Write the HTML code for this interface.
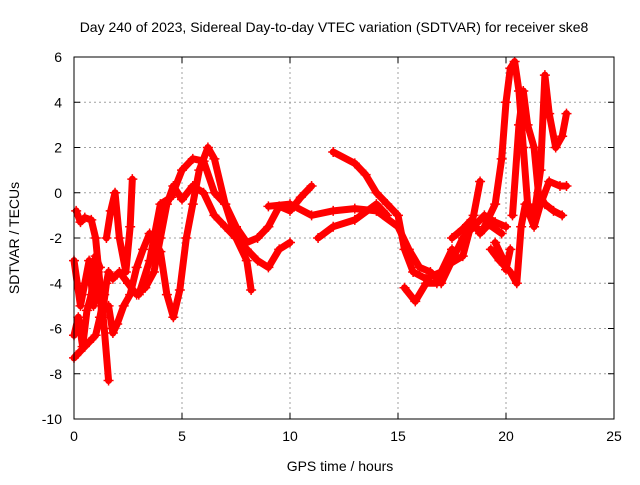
<!DOCTYPE html>
<html><head><meta charset="utf-8"><style>
body{margin:0;background:#fff;}
svg text{font-family:"Liberation Sans",sans-serif;font-size:14px;fill:#000;}
</style></head><body>
<svg id="chart" width="640" height="480">
<text x="334" y="32" text-anchor="middle">Day 240 of 2023, Sidereal Day-to-day VTEC variation (SDTVAR) for receiver ske8</text>
<text x="340" y="471" text-anchor="middle">GPS time / hours</text>
<text transform="translate(19,238) rotate(-90)" text-anchor="middle">SDTVAR / TECUs</text>
<g id="grid"></g><g id="ticks"></g><g id="marks"></g>
<rect x="74" y="57" width="540" height="362" fill="none" stroke="#000"/>
</svg>
<script>
const xTicks=[0,5,10,15,20,25];
const yTicks=[-10,-8,-6,-4,-2,0,2,4,6];
const series1=[[0,-7.3],[0.3,-7],[0.7,-6.6],[1.0,-6.3],[1.2,-5.5],[1.4,-4.5],[1.6,-3.5],[1.8,-3.8],[2.1,-3.5],[2.5,-4],[2.9,-4.5],[3.3,-4.2],[3.7,-3.5],[4,-2],[4.3,-0.5],[4.6,0.3],[5,-0.3],[5.5,0.3],[6,0],[6.5,-1],[7,-1.5],[7.5,-2],[8,-2.5],[8.5,-3],[9,-3.3],[9.5,-2.5],[10,-2.2]];
const series2=[[0.1,-0.8],[0.3,-1.3],[0.5,-1.1],[0.8,-1.2],[1.0,-2],[1.2,-4],[1.4,-6],[1.6,-8.3]];
const series3=[[1.6,-5],[1.8,-6.2],[2.0,-5.8],[2.3,-5],[2.6,-4.5],[2.9,-3.3],[3.2,-2.5],[3.5,-1.8],[4.0,-2.6],[4.3,-4.5],[4.6,-5.5],[4.9,-4.3],[5.2,-2],[5.5,-0.5],[5.8,1],[6.2,2],[6.5,1.5],[7,-0.5],[7.5,-2],[8,-3],[8.2,-4.3]];
const series4=[[1.5,-2],[1.7,-0.8],[1.9,0],[2.1,-2],[2.4,-3.5],[2.6,-1.5],[2.7,0.6]];
const series5=[[3,-4.5],[3.5,-3],[4,-0.5],[4.5,-0.2],[5,1],[5.5,1.5],[6,1.4],[6.5,0],[7,-0.5],[7.5,-1.5],[8,-2.2],[8.5,-2],[9,-1.5],[9.5,-0.6],[10,-0.8],[10.5,-0.2],[11,0.3]];
const series6=[[9,-0.6],[10,-0.5],[11,-1],[12,-0.8],[13,-0.7],[14,-0.8],[15,-1.5],[15.5,-2.5],[16,-3.3],[16.5,-3.5],[17,-4],[17.5,-3],[18,-2],[18.5,-1.5],[19,-1],[19.5,-1.3],[20,-1.5]];
const series7=[[11.3,-2],[12,-1.5],[13,-1.2],[14,-0.5],[14.5,-1]];
const series8=[[12,1.8],[13,1.3],[13.5,0.8],[14,0],[14.5,-0.5],[15,-1],[15.3,-2.5],[15.7,-3.5],[16.3,-3.8],[17,-3.5],[17.5,-2.5]];
const series9=[[15.3,-4.2],[15.8,-4.8],[16.3,-4],[16.8,-4],[17.3,-3.2],[18,-2.8],[18.5,-1],[18.8,0.5]];
const series10=[[19,-1.5],[19.5,-0.5],[19.8,1.5],[20,4],[20.2,5.5],[20.4,5.8],[20.6,4.5],[20.8,2],[21,-0.5],[21.3,-1],[21.6,1],[21.8,5.2],[22,3.5],[22.3,2],[22.6,2.5],[22.8,3.5]];
const series11=[[19.3,-2.5],[19.7,-3],[20.2,-3.5],[20.5,-4],[20.7,-1.5],[20.9,-0.5],[21.3,-1.5],[21.6,-0.5],[22,0.5],[22.5,0.3],[22.8,0.3]];
const series12=[[20.3,-1],[20.6,3],[20.8,4.5],[21,3],[21.3,2],[21.5,0],[21.8,-0.5],[22.2,-0.8],[22.6,-1]];
const series13=[[0,-3],[0.3,-5],[0.5,-4],[0.7,-3],[0.9,-5],[1.1,-3.5],[1.3,-5.5],[1.5,-4]];
const series14=[[0,-6.3],[0.2,-5.5],[0.4,-6.8],[0.6,-5.2],[0.8,-4.5],[1.0,-2.8],[1.2,-3.3]];
const series15=[[17.5,-2],[18,-1.6],[18.4,-1.2],[18.8,-1.8],[19.2,-1.4],[19.8,-1.8]];
const series16=[[19.5,-2.2],[19.8,-2.8],[20.0,-3.4],[20.2,-2.5]];
const allSeries=[series1,series2,series3,series4,series5,series6,series7,series8,series9,series10,series11,series12,series13,series14,series15,series16];
const x0=74,x1=614,y0=419,y1=57;
function X(v){return x0+(v-0)/(25-0)*(x1-x0);}
function Y(v){return y0-(v+10)/16*(y0-y1);}
const NS="http://www.w3.org/2000/svg";
function mk(t,a,p){const e=document.createElementNS(NS,t);for(const k in a)e.setAttribute(k,a[k]);p.appendChild(e);return e;}
const grid=document.getElementById('grid'),ticks=document.getElementById('ticks'),marks=document.getElementById('marks');
xTicks.forEach(t=>{const x=X(t);
 if(t>0&&t<25){const g=mk('line',{x1:x,x2:x,y1:y0,y2:y1,stroke:'#a0a0a0','stroke-dasharray':'2,3'},grid);
 
 }
 mk('line',{x1:x,x2:x,y1:y0,y2:y0-6,stroke:'#000'},ticks);
 mk('line',{x1:x,x2:x,y1:y1,y2:y1+6,stroke:'#000'},ticks);
 const l=mk('text',{x:x,y:y0+22,'text-anchor':'middle'},ticks);l.textContent=t;
 
 });
yTicks.forEach(t=>{const y=Y(t);
 if(t>-10&&t<6){const g=mk('line',{x1:x0,x2:x1,y1:y,y2:y,stroke:'#a0a0a0','stroke-dasharray':'2,3'},grid);
 
 }
 mk('line',{x1:x0,x2:x0+6,y1:y,y2:y,stroke:'#000'},ticks);
 mk('line',{x1:x1,x2:x1-6,y1:y,y2:y,stroke:'#000'},ticks);
 const l=mk('text',{x:x0-12,y:y+5,'text-anchor':'end'},ticks);l.textContent=t;
 
 });
allSeries.forEach((s,i)=>{
 const p=mk('polyline',{points:s.map(d=>X(d[0])+','+Y(d[1])).join(' '),fill:'none',stroke:'#ff0000','stroke-width':7,'stroke-linejoin':'round','stroke-linecap':'round'},marks);
 
 
 s.forEach(d=>{const x=X(d[0]),y=Y(d[1]);
  const m=mk('path',{d:`M${x-5},${y}H${x+5}M${x},${y-5}V${y+5}`,stroke:'#ff0000','stroke-width':1.5},marks);
  
  });
});
</script>
</body></html>
